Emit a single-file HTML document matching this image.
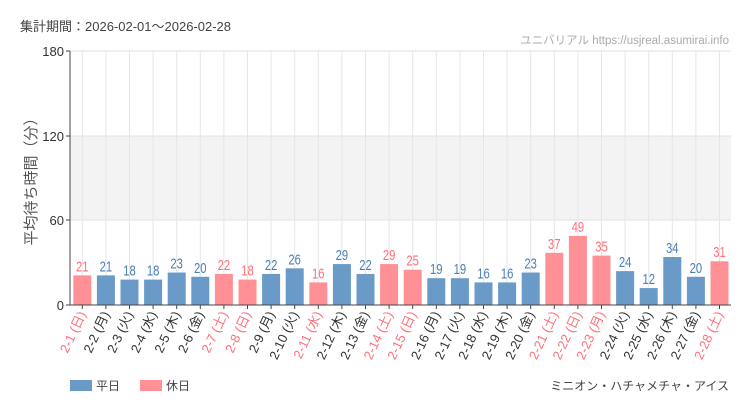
<!DOCTYPE html><html><head><meta charset="utf-8"><style>body{margin:0;background:#fff}svg{display:block;font-family:"Liberation Sans","Noto Sans CJK JP",sans-serif}</style></head><body>
<svg id="s" width="750" height="410" xmlns="http://www.w3.org/2000/svg">
<text x="20" y="31" font-size="13" fill="#444">集計期間：2026-02-01～2026-02-28</text>
<text x="729" y="44" font-size="11.5" fill="#aaa" text-anchor="end">ユニバリアル  https://usjreal.asumirai.info</text>
<rect x="70" y="136" width="661" height="84" fill="#f3f3f3"/>
<g stroke="#e2e2e2"><line x1="70" y1="51" x2="731" y2="51"/><line x1="70" y1="136" x2="731" y2="136"/><line x1="70" y1="220" x2="731" y2="220"/></g>
<g id="g"></g>
<line x1="70" y1="51" x2="70" y2="305" stroke="#444"/><line x1="70" y1="305" x2="731" y2="305" stroke="#444"/>
<g font-size="13" fill="#333" text-anchor="end"><text x="64" y="56">180</text><text x="64" y="141">120</text><text x="64" y="225">60</text><text x="64" y="310">0</text></g>
<g stroke="#444"><line x1="66" y1="51" x2="70" y2="51"/><line x1="66" y1="136" x2="70" y2="136"/><line x1="66" y1="220" x2="70" y2="220"/><line x1="66" y1="305" x2="70" y2="305"/></g>
<text transform="translate(36,178) rotate(-90)" font-size="15" fill="#555" text-anchor="middle">平均待ち時間（分）</text>
<rect x="70" y="380" width="22" height="11" fill="#6a9ac8"/><text x="96" y="390" font-size="12" fill="#444">平日</text>
<rect x="140" y="380" width="22" height="11" fill="#ff9096"/><text x="166" y="390" font-size="12" fill="#444">休日</text>
<text x="729" y="390" font-size="12" fill="#444" text-anchor="end">ミニオン・ハチャメチャ・アイス</text>
</svg>
<script>
var d=[21,21,18,18,23,20,22,18,22,26,16,29,22,29,25,19,19,16,16,23,37,49,35,24,12,34,20,31];
var wd="日月火水木金土",H=[11,23],g=document.getElementById('g'),h='';
for(var i=0;i<28;i++){var c=70.5+23.6*(i+0.5),w=i%7,hol=w==0||w==6||H.indexOf(i+1)>=0;
var col=hol?'#ff9096':'#6a9ac8',tc=hol?'#ff7079':'#4a7fb5',y=305-d[i]*254/180;
h+='<line x1="'+c+'" y1="51" x2="'+c+'" y2="305" stroke="#e6e6e6"/>';
h+='<rect x="'+(c-9)+'" y="'+y+'" width="18" height="'+(305-y)+'" fill="'+col+'"/>';
h+='<text x="'+c+'" y="'+(y-4)+'" font-size="15" fill="'+tc+'" text-anchor="middle" transform="translate('+c+','+(y-4)+') scale(0.75,1) translate('+(-c)+','+(-(y-4))+')">'+d[i]+'</text>';
h+='<line x1="'+c+'" y1="305" x2="'+c+'" y2="309" stroke="#444"/>';
h+='<text transform="translate('+(c+4)+',314) rotate(-65)" font-size="13" text-anchor="end" fill="'+(hol?'#ff7079':'#333')+'">2-'+(i+1)+' ('+wd[w]+')</text>';}
g.innerHTML=h;
</script></body></html>
